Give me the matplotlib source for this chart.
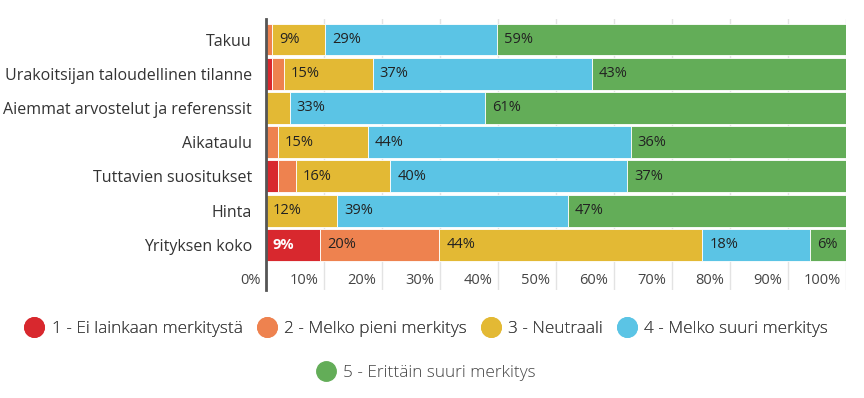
import matplotlib
matplotlib.use("Agg")
import matplotlib.pyplot as plt
import matplotlib.transforms as mtransforms
from matplotlib.lines import Line2D
import numpy as np

categories = ["Takuu", "Urakoitsijan taloudellinen tilanne", "Aiemmat arvostelut ja referenssit",
              "Aikataulu", "Tuttavien suositukset", "Hinta", "Yrityksen koko"]
series_names = ["1 - Ei lainkaan merkitystä", "2 - Melko pieni merkitys", "3 - Neutraali",
                "4 - Melko suuri merkitys", "5 - Erittäin suuri merkitys"]
s1 = [0, 1, 0, 0, 2, 0, 9]
s2 = [1, 2, 0, 2, 3, 0, 20]
s3 = [9, 15, 4, 15, 16, 12, 44]
s4 = [29, 37, 33, 44, 40, 39, 18]
s5 = [59, 43, 61, 36, 37, 47, 6]
xticks = [0, 10, 20, 30, 40, 50, 60, 70, 80, 90, 100]
xtick_labels = ["0%", "10%", "20%", "30%", "40%", "50%", "60%", "70%", "80%", "90%", "100%"]

colors = ["#d8282e", "#ee824f", "#e3b934", "#5bc4e5", "#63ad58"]
font = "Open Sans"

fig = plt.figure(figsize=(8.64, 3.98), dpi=100)
ax = fig.add_axes([266/864, 1-290/398, 580/864, (290-19)/398])

data = np.array([s1, s2, s3, s4, s5], dtype=float)
totals = data.sum(axis=0)
pct = data / totals * 100
y = np.arange(len(categories))
left = np.zeros(len(categories))
for k in range(5):
    ax.barh(y, pct[k], left=left, height=0.93, color=colors[k], edgecolor="white",
            linewidth=0.6, zorder=2)
    for i in range(len(categories)):
        v = data[k, i]
        if v >= 5:
            if k == 0:
                ax.text(left[i] + 1.2, y[i], f"{int(v)}%", va="center", ha="left",
                        fontsize=10.5, color="white", fontweight="bold", family=font, zorder=3)
            else:
                ax.text(left[i] + 1.2, y[i], f"{int(v)}%", va="center", ha="left",
                        fontsize=10.5, color="#222222", family=font, zorder=3)
    left += pct[k]

ax.set_xlim(0, 100)
ax.set_ylim(6 + 1.32, -0.6)
ax.set_yticks(y)
ax.set_yticklabels(categories, family=font, fontsize=11.5, color="#333333")
ax.tick_params(axis="y", length=0, pad=10)
ax.set_xticks(xticks)
ax.set_xticklabels(xtick_labels, family=font, fontsize=10.5, color="#444444")
ax.tick_params(axis="x", length=0, pad=-12.5)
offset = mtransforms.ScaledTranslation(-4/72, 0, fig.dpi_scale_trans)
for lbl in ax.get_xticklabels():
    lbl.set_ha("right")
    lbl.set_transform(lbl.get_transform() + offset)
ax.grid(axis="x", color="#e3e3e3", linewidth=1, zorder=0)
ax.set_axisbelow(True)
for s in ["top", "right", "bottom"]:
    ax.spines[s].set_visible(False)
ax.spines["left"].set_color("#555555")
ax.spines["left"].set_linewidth(2)
ax.spines["left"].set_zorder(4)

handles = [Line2D([], [], marker="o", linestyle="none", markersize=14,
                  markerfacecolor=c, markeredgecolor=c) for c in colors]
legprop = {"family": "Open Sans", "size": 12.4, "weight": "light"}
leg1 = fig.legend(handles[:4], series_names[:4], loc="center", ncol=4,
                  bbox_to_anchor=(426/864, 1-329/398), frameon=False,
                  prop=legprop, handletextpad=0.4,
                  columnspacing=0.8, handlelength=1.2, labelcolor="#444444")
leg2 = fig.legend(handles[4:], series_names[4:], loc="center", ncol=1,
                  bbox_to_anchor=(426/864, 1-373/398), frameon=False,
                  prop=legprop, handletextpad=0.4,
                  handlelength=1.2, labelcolor="#444444")
fig.add_artist(leg1)

fig.savefig("out.png", dpi=100)
